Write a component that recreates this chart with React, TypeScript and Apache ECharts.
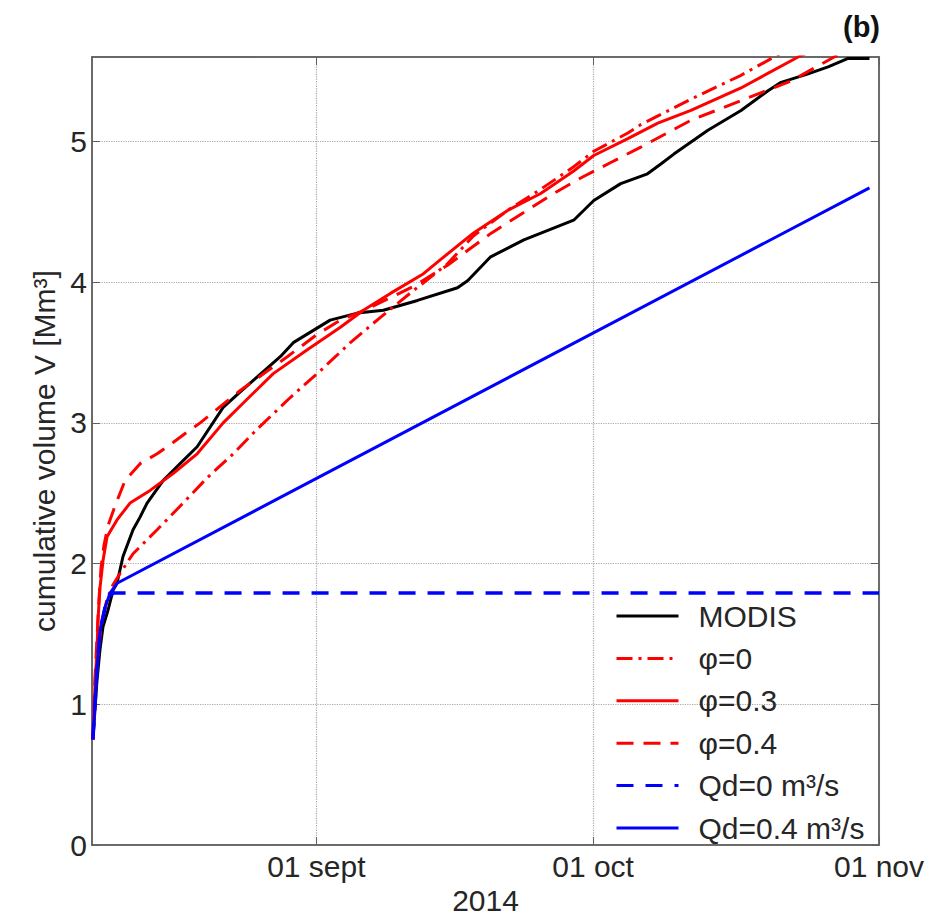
import React, { useEffect, useRef } from "react";
import * as echarts from "echarts";

// x values: days since 2014-08-01 (day 31 = 01 sept, 61 = 01 oct, 92 = 01 nov)
const xMinDay = 6.68;
const xMaxDay = 92;
const xTickDays = [31, 61, 92];
const xTickLabels = ["01 sept", "01 oct", "01 nov"];
const xAxisName = "2014";
const yTicks = [0, 1, 2, 3, 4, 5];
const yMin = 0;
const yMax = 5.6;
const yAxisName = "cumulative volume V [Mm³]";

const seriesNames = ["MODIS", "φ=0", "φ=0.3", "φ=0.4", "Qd=0 m³/s", "Qd=0.4 m³/s"];

const modis: [number, number][] = [
  [6.78, 0.75], [7.22, 1.17], [7.55, 1.39], [7.87, 1.55], [8.42, 1.67], [8.96, 1.81],
  [9.39, 1.86], [10.04, 2.05], [11.13, 2.24], [11.89, 2.33], [12.65, 2.43], [14.39, 2.59],
  [16.23, 2.71], [18.08, 2.83], [20.9, 3.11], [22.75, 3.22], [25.0, 3.35], [27.09, 3.47],
  [28.5, 3.57], [30.5, 3.65], [32.5, 3.73], [35.45, 3.78], [38.27, 3.8], [41.97, 3.87],
  [46.31, 3.96], [47.4, 4.01], [49.9, 4.18], [53.5, 4.3], [58.9, 4.44], [61.08, 4.58],
  [64.0, 4.7], [66.9, 4.77], [68.35, 4.84], [69.76, 4.91], [73.45, 5.08], [77.04, 5.22],
  [79.97, 5.36], [81.38, 5.42], [84.31, 5.48], [86.48, 5.53], [88.65, 5.59], [90.97, 5.59],
];

const phi0: [number, number][] = [
  [6.78, 0.75], [7.22, 1.25], [7.66, 1.55], [8.31, 1.75], [8.96, 1.85], [9.72, 1.93],
  [11.13, 2.07], [13.74, 2.24], [16.56, 2.43], [19.17, 2.61], [21.99, 2.78], [24.5, 2.95],
  [28.18, 3.18], [31.43, 3.37], [34.69, 3.57], [37.95, 3.75], [41.53, 3.94], [45.22, 4.13],
  [48.05, 4.33], [51.74, 4.51], [55.32, 4.66], [58.9, 4.82], [61.08, 4.93], [64.77, 5.06],
  [66.18, 5.12], [71.61, 5.3], [77.04, 5.47], [80.62, 5.6], [84.0, 5.72],
];

const phi03: [number, number][] = [
  [6.78, 0.75], [7.01, 1.15], [7.22, 1.38], [7.33, 1.6], [7.55, 1.83], [7.87, 2.02],
  [8.31, 2.19], [9.39, 2.31], [10.8, 2.43], [12.98, 2.52], [15.47, 2.64], [18.08, 2.78],
  [20.9, 3.0], [22.75, 3.12], [26.33, 3.35], [30.02, 3.52], [33.61, 3.68], [36.1, 3.8],
  [39.03, 3.92], [42.62, 4.06], [44.46, 4.16], [48.05, 4.35], [51.74, 4.51], [55.32, 4.63],
  [58.9, 4.79], [61.08, 4.9], [64.77, 5.02], [68.02, 5.13], [71.61, 5.22], [77.04, 5.38],
  [83.23, 5.6], [86.0, 5.68],
];

const phi04: [number, number][] = [
  [6.78, 0.75], [7.01, 1.2], [7.22, 1.47], [7.44, 1.75], [7.66, 1.97], [7.98, 2.13],
  [8.42, 2.27], [9.18, 2.41], [10.26, 2.59], [11.89, 2.71], [13.74, 2.78], [15.47, 2.86],
  [17.32, 2.95], [18.41, 3.0], [22.75, 3.23], [27.85, 3.47], [31.11, 3.63], [33.61, 3.73],
  [36.54, 3.81], [41.53, 3.97], [45.22, 4.12], [50.0, 4.35], [56.73, 4.63], [59.66, 4.74],
  [62.92, 4.85], [66.18, 4.96], [71.61, 5.15], [77.04, 5.29], [82.47, 5.43], [87.14, 5.6],
  [89.0, 5.66],
];

const qd0: [number, number][] = [
  [6.78, 0.75], [7.22, 1.25], [7.56, 1.53], [8.1, 1.69], [8.63, 1.77], [8.96, 1.79], [92, 1.79],
];

const qd04: [number, number][] = [
  [6.78, 0.75], [7.22, 1.25], [7.56, 1.53], [8.1, 1.69], [8.63, 1.79], [9.39, 1.86], [90.97, 4.67],
];

const FONT = "'Liberation Sans', Arial, Helvetica, sans-serif";
const TEXT = "#262626";
const AXIS = "#606060";
const GRID = "#a8a8a8";
const FS = 30;

export default function App() {
  const ref = useRef<HTMLDivElement>(null);

  useEffect(() => {
    if (!ref.current) return;
    const chart = echarts.init(ref.current, undefined, { renderer: "svg" });
    const xFmt = (val: number) => {
      const i = xTickDays.findIndex((t) => Math.abs(t - val) < 1e-6);
      return i >= 0 ? xTickLabels[i] : "";
    };
    const lineSeries = (
      name: string,
      data: [number, number][],
      color: string,
      width: number,
      type: any
    ) => ({
      name,
      type: "line",
      data,
      showSymbol: false,
      symbol: "none",
      smooth: false,
      clip: true,
      lineStyle: { color, width, type },
      itemStyle: { color },
    });

    chart.setOption({
      animation: false,
      backgroundColor: "#ffffff",
      textStyle: { fontFamily: FONT },
      grid: {
        left: 92,
        top: 57,
        width: 787,
        height: 788,
        show: true,
        borderColor: AXIS,
        borderWidth: 1.5,
        backgroundColor: "transparent",
        outerBoundsMode: "none",
      },
      xAxis: [
        {
          type: "value",
          min: xMinDay,
          max: xMaxDay,
          position: "bottom",
          name: xAxisName,
          nameLocation: "middle",
          nameGap: 37,
          nameTextStyle: { fontSize: FS, color: TEXT, fontFamily: FONT },
          axisLine: { show: true, onZero: false, lineStyle: { color: AXIS, width: 1.5 } },
          axisTick: { show: true, inside: true, length: 8, customValues: xTickDays, lineStyle: { color: AXIS } },
          axisLabel: {
            customValues: xTickDays,
            formatter: xFmt,
            fontSize: FS,
            color: TEXT,
            fontFamily: FONT,
            margin: 6,
            hideOverlap: false,
          },
          splitLine: { show: true, lineStyle: { type: "dotted", color: GRID, width: 1.2 } },
        },
        {
          type: "value",
          min: xMinDay,
          max: xMaxDay,
          position: "top",
          axisLine: { show: true, onZero: false, lineStyle: { color: AXIS, width: 1.5 } },
          axisTick: { show: true, inside: true, length: 8, customValues: xTickDays, lineStyle: { color: AXIS } },
          axisLabel: { show: false },
          splitLine: { show: false },
        },
      ],
      yAxis: [
        {
          type: "value",
          min: yMin,
          max: yMax,
          position: "left",
          name: yAxisName,
          nameLocation: "middle",
          nameGap: 28,
          nameTextStyle: { fontSize: FS, color: TEXT, fontFamily: FONT },
          axisLine: { show: true, onZero: false, lineStyle: { color: AXIS, width: 1.5 } },
          axisTick: { show: true, inside: true, length: 8, customValues: yTicks, lineStyle: { color: AXIS } },
          axisLabel: {
            customValues: yTicks,
            fontSize: FS,
            color: TEXT,
            fontFamily: FONT,
            margin: 5,
          },
          splitLine: { show: true, lineStyle: { type: "dotted", color: GRID, width: 1.2 } },
        },
        {
          type: "value",
          min: yMin,
          max: yMax,
          position: "right",
          axisLine: { show: true, onZero: false, lineStyle: { color: AXIS, width: 1.5 } },
          axisTick: { show: true, inside: true, length: 8, customValues: yTicks, lineStyle: { color: AXIS } },
          axisLabel: { show: false },
          splitLine: { show: false },
        },
      ],
      legend: {
        orient: "vertical",
        left: 610,
        top: 596,
        itemWidth: 62,
        itemHeight: 14,
        itemGap: 12.4,
        backgroundColor: "transparent",
        borderWidth: 0,
        selectedMode: false,
        itemStyle: { opacity: 0 },
        lineStyle: { width: 3 },
        textStyle: { fontSize: FS, color: TEXT, fontFamily: FONT, lineHeight: 29, padding: [0, 0, 0, 15] },
        data: seriesNames,
      },
      graphic: [
        {
          type: "text",
          right: 63,
          top: 12,
          style: { text: "(b)", font: `bold 29px ${FONT}`, fill: "#111" },
        },
      ],
      series: [
        lineSeries(seriesNames[0], modis, "#000000", 3, "solid"),
        lineSeries(seriesNames[1], phi0, "#ff0000", 3, [16, 6, 3, 6]),
        lineSeries(seriesNames[2], phi03, "#ff0000", 3, "solid"),
        lineSeries(seriesNames[3], phi04, "#ff0000", 3, [17, 10]),
        lineSeries(seriesNames[4], qd0, "#0000ff", 3.5, [17, 12]),
        lineSeries(seriesNames[5], qd04, "#0000ff", 3, "solid"),
      ],
    });
    return () => chart.dispose();
  }, []);

  return (
    <div
      ref={ref}
      style={{ position: "absolute", left: 0, top: 0, width: 943, height: 918, background: "#fff" }}
    />
  );
}
